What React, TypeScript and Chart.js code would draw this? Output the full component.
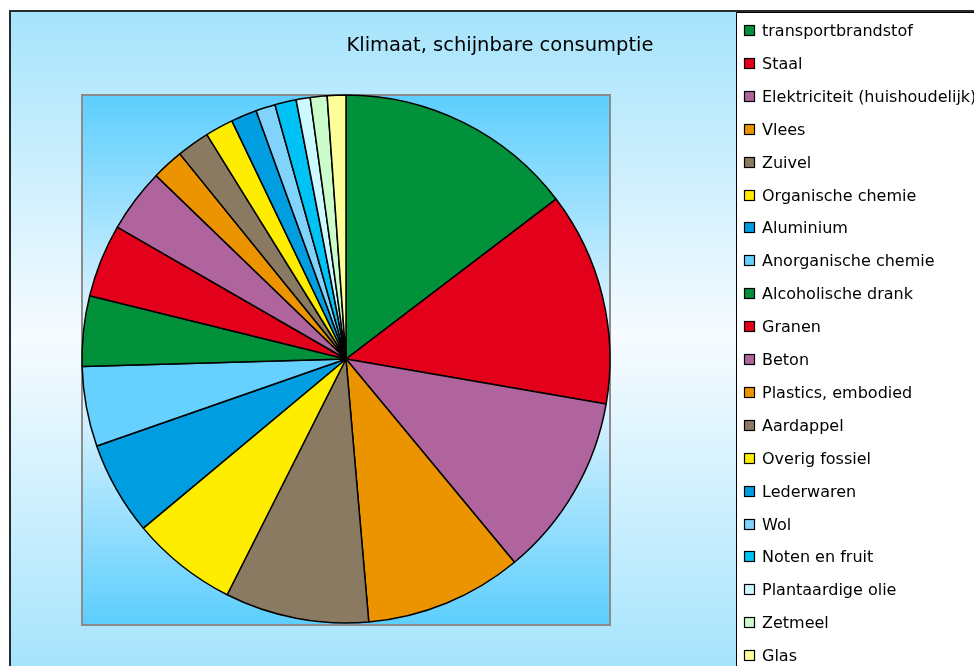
import { useEffect, useRef } from "react";
import { Chart, PieController, ArcElement } from "chart.js";

Chart.register(PieController, ArcElement);

const chartTitle = "Klimaat, schijnbare consumptie";

const categories = [
  "transportbrandstof",
  "Staal",
  "Elektriciteit (huishoudelijk)",
  "Vlees",
  "Zuivel",
  "Organische chemie",
  "Aluminium",
  "Anorganische chemie",
  "Alcoholische drank",
  "Granen",
  "Beton",
  "Plastics, embodied",
  "Aardappel",
  "Overig fossiel",
  "Lederwaren",
  "Wol",
  "Noten en fruit",
  "Plantaardige olie",
  "Zetmeel",
  "Glas",
];

const values = [
  52.7, 47.1, 40.5, 34.7, 31.7, 23.4, 20.6, 17.6, 15.5, 16.1, 14.0, 7.0, 7.2,
  6.2, 5.7, 4.3, 4.7, 3.1, 3.7, 4.1,
];

const colors = [
  "#00913a",
  "#e2001a",
  "#b0649e",
  "#ec9400",
  "#8a7a62",
  "#ffed00",
  "#009ee0",
  "#66d0ff",
  "#00913a",
  "#e2001a",
  "#b0649e",
  "#ec9400",
  "#8a7a62",
  "#ffed00",
  "#009ee0",
  "#80d4fb",
  "#00c3f5",
  "#ccf8ff",
  "#ccfccc",
  "#ffff99",
];

export default function App() {
  const ref = useRef<HTMLCanvasElement>(null);

  useEffect(() => {
    document.body.style.margin = "0";
    const canvas = ref.current;
    if (!canvas) return;

    const decor = {
      id: "decor",
      beforeDraw(chart: any) {
        const ctx = chart.ctx as CanvasRenderingContext2D;
        ctx.save();
        ctx.fillStyle = "#ffffff";
        ctx.fillRect(0, 0, 974, 666);
        // outer chart area gradient
        const g = ctx.createLinearGradient(0, 11, 0, 666);
        g.addColorStop(0, "#a6e4fc");
        g.addColorStop(0.5, "#f6fbff");
        g.addColorStop(1, "#a6e4fc");
        ctx.fillStyle = g;
        ctx.fillRect(10, 11, 964, 655);
        ctx.strokeStyle = "#262b2e";
        ctx.lineWidth = 2;
        ctx.beginPath();
        ctx.moveTo(10, 666);
        ctx.lineTo(10, 11);
        ctx.lineTo(974, 11);
        ctx.stroke();
        // plot area
        const pg = ctx.createLinearGradient(0, 95, 0, 625);
        pg.addColorStop(0, "#5ccefd");
        pg.addColorStop(0.5, "#f5faff");
        pg.addColorStop(1, "#5ccefd");
        ctx.fillStyle = pg;
        ctx.fillRect(82, 95, 528, 530);
        ctx.strokeStyle = "#8c8c8c";
        ctx.lineWidth = 2;
        ctx.strokeRect(82, 95, 528, 530);
        ctx.restore();
      },
      afterDraw(chart: any) {
        const ctx = chart.ctx as CanvasRenderingContext2D;
        ctx.save();
        // title
        ctx.fillStyle = "#000000";
        ctx.font = '19.5px "DejaVu Sans"';
        ctx.textAlign = "center";
        ctx.textBaseline = "alphabetic";
        ctx.fillText(chartTitle, 500, 51);
        // legend box
        ctx.fillStyle = "#ffffff";
        ctx.fillRect(736.5, 12.5, 300, 700);
        ctx.strokeStyle = "#000000";
        ctx.lineWidth = 1;
        ctx.strokeRect(736.5, 12.5, 300, 700);
        ctx.font = '16px "DejaVu Sans"';
        ctx.textAlign = "left";
        categories.forEach((label, i) => {
          const y = 25 + 32.9 * i;
          ctx.fillStyle = colors[i];
          ctx.fillRect(744, Math.round(y), 11, 11);
          ctx.strokeStyle = "#000000";
          ctx.lineWidth = 1.2;
          ctx.strokeRect(744.5, Math.round(y) + 0.5, 10, 10);
          ctx.fillStyle = "#000000";
          ctx.fillText(label, 762, Math.round(y) + 11);
        });
        ctx.restore();
      },
    };

    const chart = new Chart(canvas, {
      type: "pie",
      data: {
        labels: categories,
        datasets: [
          {
            data: values,
            backgroundColor: colors,
            borderColor: "#000000",
            borderWidth: 1.5,
            radius: 264,
          } as any,
        ],
      },
      options: {
        responsive: false,
        animation: false,
        devicePixelRatio: 1,
        events: [],
        layout: { padding: { left: 82, right: 364, top: 95, bottom: 43 } },
        plugins: {
          legend: { display: false },
          tooltip: { enabled: false },
        },
      } as any,
      plugins: [decor],
    });

    return () => chart.destroy();
  }, []);

  return (
    <canvas
      ref={ref}
      width={974}
      height={666}
      style={{ display: "block", width: 974, height: 666 }}
    />
  );
}
